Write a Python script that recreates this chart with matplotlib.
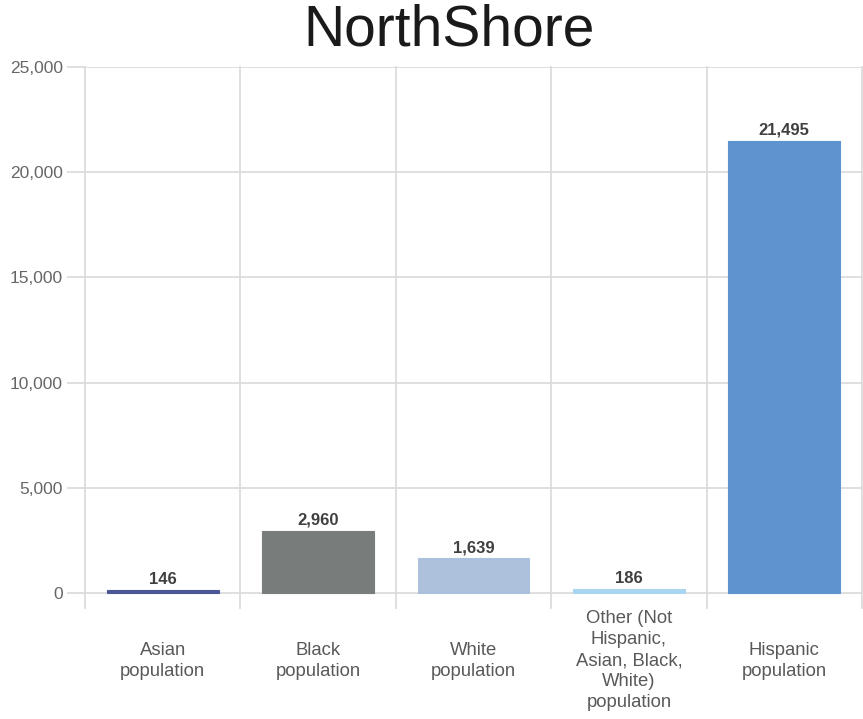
import matplotlib.pyplot as plt
from matplotlib.ticker import FuncFormatter

plt.rcParams['font.family'] = ['Liberation Sans', 'DejaVu Sans']

categories = [
    'Asian\npopulation',
    'Black\npopulation',
    'White\npopulation',
    'Other (Not\nHispanic,\nAsian, Black,\nWhite)\npopulation',
    'Hispanic\npopulation',
]
values = [146, 2960, 1639, 186, 21495]
colors = ['#4a5899', '#787d7c', '#adc1dd', '#a8d6f1', '#5f93cf']
yticks = [0, 5000, 10000, 15000, 20000, 25000]

grid_color = '#dcdcdc'

fig = plt.figure(figsize=(8.63, 7.19), dpi=100)
ax = fig.add_axes([85 / 863, 1 - 608 / 719, 777 / 863, 541 / 719])

x = list(range(len(categories)))
bars = ax.bar(x, values, width=0.72, color=colors, zorder=3,
              edgecolor=colors, linewidth=0.8)

for xi, v in zip(x, values):
    ax.annotate(f'{v:,}', (xi, v), xytext=(0, 2), textcoords='offset points',
                ha='center', va='bottom', fontsize=12, fontweight='bold',
                color='#404040', zorder=4)

# category separators run the full height, below the baseline too
for b in [i - 0.5 for i in range(len(categories) + 1)]:
    ax.axvline(b, color=grid_color, lw=1.3, zorder=1, clip_on=False)
for t in yticks:
    ax.axhline(t, color=grid_color, lw=1.3, zorder=1)

ax.set_xlim(-0.5, len(categories) - 0.5)
ax.set_ylim(-720, 25000)
ax.set_yticks(yticks)
ax.yaxis.set_major_formatter(FuncFormatter(lambda v, _: f'{int(v):,}'))
ax.tick_params(axis='y', length=13, width=1.3, color=grid_color,
               labelsize=12.5, labelcolor='#666666', pad=3)
ax.set_xticks(x)
ax.set_xticklabels(categories, va='center', linespacing=1.3)
ax.tick_params(axis='x', length=0, labelsize=13.3, labelcolor='#595959', pad=38)

for s in ax.spines.values():
    s.set_visible(False)

fig.text(0.52, 1 - 31 / 719, 'NorthShore', ha='center', va='center',
         fontsize=41, color='#1a1a1a')

fig.savefig('out.png', dpi=100)
